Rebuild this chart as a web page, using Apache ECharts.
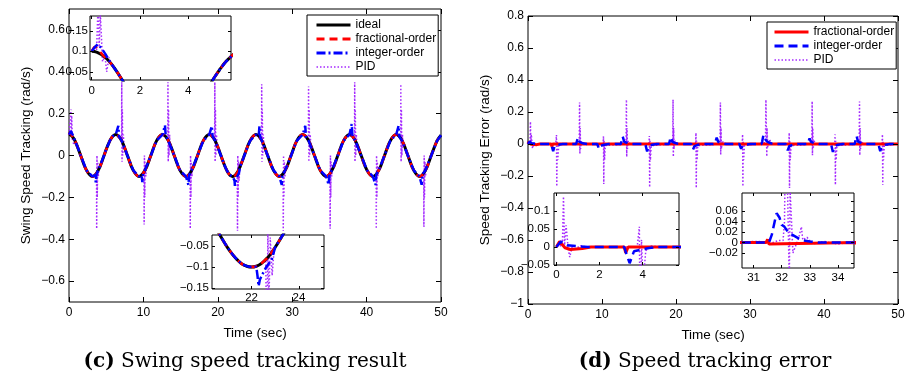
<!DOCTYPE html>
<html>
<head>
<meta charset="utf-8">
<script src="https://cdn.jsdelivr.net/npm/echarts@6/dist/echarts.min.js"></script>
<style>
  html, body { margin: 0; padding: 0; background: #fff; }
  #chart { width: 914px; height: 380px; }
</style>
</head>
<body>
<div id="chart"></div>
<script>
// ---- data (time in s, speed in rad/s) ----

// panel (c): reference swing speed
const idealC = [[0,0.1],[0.2,0.098],[0.4,0.092],[0.6,0.083],[0.79,0.071],[1.0,0.054],[1.2,0.036],[1.4,0.017],[1.57,0],
  [2.36,-0.071],[3.14,-0.1],[3.93,-0.071],[4.71,0],[4.9,0.019],[5.1,0.038],[5.3,0.055],[5.5,0.071],[5.7,0.083],[5.9,0.093],
  [6.28,0.1],[7.07,0.071],[7.85,0],[8.64,-0.071],[9.42,-0.1],[10.21,-0.071],[11.0,0],[11.78,0.071],[12.57,0.1],[13.35,0.071],
  [14.14,0],[14.92,-0.071],[15.71,-0.1],[16.49,-0.071],[17.28,0],[18.06,0.071],[18.85,0.1],[19.63,0.071],[20.42,0],
  [20.6,-0.018],[20.8,-0.037],[21.0,-0.055],[21.21,-0.071],[21.4,-0.083],[21.6,-0.093],[21.8,-0.098],[21.99,-0.1],
  [22.2,-0.098],[22.4,-0.092],[22.6,-0.082],[22.78,-0.071],[23.0,-0.053],[23.2,-0.035],[23.4,-0.016],[23.56,0],
  [24.35,0.071],[25.13,0.1],[25.92,0.071],[26.7,0],[27.49,-0.071],[28.27,-0.1],[29.06,-0.071],[29.85,0],[30.63,0.071],
  [31.42,0.1],[32.2,0.071],[32.99,0],[33.77,-0.071],[34.56,-0.1],[35.34,-0.071],[36.13,0],[36.91,0.071],[37.7,0.1],
  [38.48,0.071],[39.27,0],[40.06,-0.071],[40.84,-0.1],[41.63,-0.071],[42.41,0],[43.2,0.071],[43.98,0.1],[44.77,0.071],
  [45.55,0],[46.34,-0.071],[47.12,-0.1],[47.91,-0.071],[48.69,0],[49.48,0.071],[50,0.097]];

// where each controller leaves the reference curve in panel (c)
const fracEventsC = [
  [[0.05,0.105],[0.14,0.111],[0.3,0.102],[0.5,0.088]]
];
const intEventsC = [
  [[0.1,0.108],[0.25,0.117],[0.4,0.108],[0.55,0.095],[0.7,0.08]],
  [[3.5,-0.094],[3.6,-0.128],[3.7,-0.088]],
  [[6.53,0.097],[6.63,0.142],[6.73,0.09]],
  [[9.76,-0.094],[9.86,-0.127],[9.96,-0.087]],
  [[12.8,0.099],[12.9,0.144],[13.0,0.093]],
  [[15.95,-0.097],[16.05,-0.14],[16.15,-0.092]],
  [[19.1,0.097],[19.2,0.14],[19.3,0.092]],
  [[22.2,-0.099],[22.25,-0.12],[22.3,-0.145],[22.35,-0.13],[22.45,-0.118],[22.63,-0.099],[22.85,-0.083]],
  [[25.5,0.093],[25.6,0.14],[25.7,0.087]],
  [[28.5,-0.097],[28.6,-0.14],[28.7,-0.09]],
  [[31.65,0.097],[31.75,0.142],[31.85,0.09]],
  [[34.8,-0.097],[34.9,-0.14],[35.0,-0.09]],
  [[37.9,0.098],[38.0,0.15],[38.1,0.09]],
  [[41.1,-0.097],[41.2,-0.14],[41.3,-0.09]],
  [[44.2,0.098],[44.3,0.142],[44.4,0.09]],
  [[47.3,-0.098],[47.4,-0.14],[47.5,-0.09]]
];
const pidEventsC = [
  [[0.2,0.098],[0.27,0.22],[0.31,0.11],[0.36,0.19],[0.45,0.075],[0.55,0.09],[0.62,0.05],[0.72,0.085],[0.85,0.065]],
  [[3.70,-0.084],[3.72,-0.35],[3.76,0.0],[3.8,-0.2],[3.86,-0.03],[3.94,-0.1],[4.02,-0.06]],
  [[7.07,0.07],[7.09,0.35],[7.13,-0.03],[7.17,0.22],[7.23,0.0],[7.31,0.1],[7.39,0.05]],
  [[10.08,-0.078],[10.1,-0.33],[10.14,0.0],[10.18,-0.2],[10.24,-0.03],[10.32,-0.1],[10.4,-0.06]],
  [[13.28,0.075],[13.3,0.35],[13.34,-0.03],[13.38,0.22],[13.44,0.0],[13.52,0.1],[13.6,0.05]],
  [[16.28,-0.083],[16.3,-0.35],[16.34,0.0],[16.38,-0.2],[16.44,-0.03],[16.52,-0.1],[16.6,-0.06]],
  [[19.58,0.073],[19.6,0.35],[19.64,-0.03],[19.68,0.22],[19.74,0.0],[19.82,0.1],[19.9,0.05]],
  [[22.63,-0.082],[22.65,-0.36],[22.69,0.0],[22.73,-0.2],[22.79,-0.03],[22.87,-0.12],[22.95,-0.06]],
  [[25.88,0.072],[25.9,0.34],[25.94,-0.03],[25.98,0.22],[26.04,0.0],[26.12,0.1],[26.2,0.05]],
  [[28.78,-0.086],[28.8,-0.36],[28.84,0.0],[28.88,-0.2],[28.94,-0.03],[29.02,-0.1],[29.1,-0.06]],
  [[32.18,0.071],[32.2,0.33],[32.24,-0.03],[32.28,0.22],[32.34,0.0],[32.42,0.1],[32.5,0.05]],
  [[35.08,-0.086],[35.1,-0.35],[35.14,0.0],[35.18,-0.2],[35.24,-0.03],[35.32,-0.1],[35.4,-0.06]],
  [[38.38,0.076],[38.4,0.35],[38.44,-0.03],[38.48,0.22],[38.54,0.0],[38.62,0.1],[38.7,0.05]],
  [[41.28,-0.09],[41.3,-0.35],[41.34,0.0],[41.38,-0.2],[41.44,-0.03],[41.52,-0.1],[41.6,-0.06]],
  [[44.58,0.081],[44.6,0.34],[44.64,-0.03],[44.68,0.22],[44.74,0.0],[44.82,0.1],[44.9,0.05]],
  [[47.68,-0.084],[47.7,-0.34],[47.74,0.0],[47.78,-0.2],[47.84,-0.03],[47.92,-0.1],[48.0,-0.06]]
];

// panel (d): tracking error
const zeroD = [[0,0],[50,0]];
const fracEventsD = [
  [[0,0],[0.15,0.015],[0.4,-0.002],[0.65,-0.007],[1.2,-0.004],[1.6,0]],
  [[3.15,0],[3.22,-0.016],[3.33,0]],
  [[6.35,0],[6.45,0.01],[6.55,0]], [[9.5,0],[9.6,-0.01],[9.7,0]],
  [[12.65,0],[12.75,0.01],[12.85,0]], [[15.8,0],[15.9,-0.01],[16.0,0]],
  [[18.95,0],[19.05,0.01],[19.15,0]], [[22.1,0],[22.2,-0.01],[22.3,0]],
  [[25.2,0],[25.3,0.01],[25.4,0]], [[28.35,0],[28.45,-0.01],[28.55,0]],
  [[31.45,0],[31.5,0.006],[31.55,-0.003],[31.6,0]], [[34.65,0],[34.75,-0.01],[34.85,0]],
  [[37.8,0],[37.9,0.01],[38.0,0]], [[40.95,0],[41.05,-0.01],[41.15,0]],
  [[44.1,0],[44.2,0.01],[44.3,0]], [[47.25,0],[47.35,-0.01],[47.45,0]]
];
const intEventsD = [
  [[0,0],[0.2,0.015],[0.5,0.005],[1.0,0.002],[1.5,0]],
  [[3.15,0],[3.25,-0.02],[3.4,-0.045],[3.6,-0.012],[3.9,-0.008],[4.3,-0.003],[4.7,0]],
  [[6.5,0],[6.75,0.04],[6.95,0.013],[7.4,0.004],[8.0,0]],
  [[9.35,0],[9.6,-0.03],[9.8,-0.012],[10.3,-0.004],[10.9,0]],
  [[12.55,0],[12.8,0.047],[13.0,0.014],[13.5,0.004],[14.1,0]],
  [[15.85,0],[16.1,-0.046],[16.3,-0.014],[16.8,-0.004],[17.4,0]],
  [[19.05,0],[19.3,0.044],[19.5,0.014],[20.0,0.004],[20.6,0]],
  [[22.05,0],[22.3,-0.035],[22.5,-0.013],[23.0,-0.004],[23.6,0]],
  [[25.25,0],[25.5,0.04],[25.7,0.014],[26.2,0.004],[26.8,0]],
  [[28.55,0],[28.8,-0.03],[29.0,-0.012],[29.5,-0.004],[30.1,0]],
  [[31.55,0],[31.65,0.015],[31.75,0.04],[31.82,0.056],[31.92,0.048],[32.0,0.034],[32.1,0.03],[32.25,0.018],[32.4,0.014],[32.6,0.008],[32.75,0.004],[33.0,0.002],[33.3,0]],
  [[34.85,0],[35.1,-0.04],[35.3,-0.014],[35.8,-0.004],[36.4,0]],
  [[37.8,0],[38.05,0.035],[38.25,0.013],[38.75,0.004],[39.3,0]],
  [[40.95,0],[41.2,-0.05],[41.4,-0.015],[41.9,-0.004],[42.5,0]],
  [[44.15,0],[44.4,0.05],[44.6,0.015],[45.1,0.004],[45.7,0]],
  [[47.35,0],[47.6,-0.045],[47.8,-0.014],[48.3,-0.004],[48.9,0]]
];
const pidEventsD = [
  [[0,0],[0.28,0.005],[0.33,0.14],[0.38,0.005],[0.45,0.06],[0.55,-0.005],[0.62,-0.028],[0.75,0.005],[0.9,-0.006],[1.1,0.004],[1.4,0]],
  [[3.75,0],[3.85,0.056],[3.89,-0.265],[3.95,0.02],[4.02,-0.1],[4.15,-0.01],[4.4,0.003],[4.8,0]],
  [[6.92,0],[6.97,0.26],[7.01,-0.06],[7.05,0.1],[7.11,-0.03],[7.22,0.02],[7.47,0]],
  [[10.15,0],[10.2,0.048],[10.24,-0.25],[10.28,0.02],[10.34,-0.1],[10.45,-0.01],[10.7,0]],
  [[13.25,0],[13.3,0.277],[13.34,-0.08],[13.38,0.1],[13.44,-0.03],[13.55,0.02],[13.8,0]],
  [[16.35,0],[16.4,0.05],[16.44,-0.27],[16.48,0.02],[16.54,-0.1],[16.65,-0.01],[16.9,0]],
  [[19.55,0],[19.6,0.277],[19.64,-0.08],[19.68,0.1],[19.74,-0.03],[19.85,0.02],[20.1,0]],
  [[22.65,0],[22.7,0.07],[22.74,-0.275],[22.78,0.02],[22.84,-0.1],[22.95,-0.01],[23.2,0]],
  [[25.95,0],[26.0,0.26],[26.04,-0.067],[26.08,0.1],[26.14,-0.03],[26.25,0.02],[26.5,0]],
  [[28.95,0],[29.0,0.06],[29.04,-0.265],[29.08,0.02],[29.14,-0.1],[29.25,-0.01],[29.5,0]],
  [[31.2,0.002],[31.6,-0.002],[31.9,0.004],[32.05,0.004],[32.1,0.04],[32.15,0.277],[32.27,-0.078],[32.3,0.1],[32.4,-0.02],[32.6,0.008],[32.7,0.03],[32.75,0.005],[32.9,0.01],[33.1,-0.003],[33.5,0.002],[34.0,-0.003],[34.4,0]],
  [[35.25,0],[35.3,0.07],[35.34,-0.275],[35.38,0.02],[35.44,-0.1],[35.55,-0.01],[35.8,0]],
  [[38.35,0],[38.4,0.267],[38.44,-0.07],[38.48,0.1],[38.54,-0.03],[38.65,0.02],[38.9,0]],
  [[41.45,0],[41.5,0.06],[41.54,-0.255],[41.58,0.02],[41.64,-0.1],[41.75,-0.01],[42.0,0]],
  [[44.75,0],[44.8,0.265],[44.84,-0.07],[44.88,0.1],[44.94,-0.03],[45.05,0.02],[45.3,0]],
  [[47.85,0],[47.9,0.06],[47.94,-0.255],[47.98,0.02],[48.04,-0.1],[48.15,-0.01],[48.4,0]]
];

// tick values
const ticksTime = [0, 10, 20, 30, 40, 50];
const ticksSwing = [-0.6, -0.4, -0.2, 0, 0.2, 0.4, 0.6];
const ticksErr = [-1, -0.8, -0.6, -0.4, -0.2, 0, 0.2, 0.4, 0.6, 0.8];
const ticksZoomC1 = { x: [0, 2, 4], y: [0.05, 0.1, 0.15] };
const ticksZoomC2 = { x: [22, 24], y: [-0.15, -0.1, -0.05] };
const ticksZoomD1 = { x: [0, 2, 4], y: [-0.05, 0, 0.05, 0.1] };
const ticksZoomD2 = { x: [31, 32, 33, 34], y: [-0.04, -0.02, 0, 0.02, 0.04, 0.06, 0.08] };

// ---- build ----
const FONT = 'Liberation Sans, Arial, sans-serif';
const SERIF = 'DejaVu Serif, serif';
const minus = v => String(v).replace('-', '\u2212');

// lay the read-off deviations over the base curve
function withEvents(base, events) {
  let pts = base.slice();
  events.forEach(g => {
    const a = g[0][0] - 0.02, b = g[g.length - 1][0] + 0.02;
    pts = pts.filter(p => p[0] < a || p[0] > b);
  });
  return pts.concat(...events).sort((p, q) => p[0] - q[0]);
}

const dataC = {
  ideal: idealC,
  frac: withEvents(idealC, fracEventsC),
  int: withEvents(idealC, intEventsC),
  pid: withEvents(idealC, pidEventsC)
};
const dataD = {
  frac: withEvents(zeroD, fracEventsD),
  int: withEvents(zeroD, intEventsD),
  pid: withEvents(zeroD, pidEventsD)
};

const grids = [
  { left: 69, top: 9, width: 372, height: 293, z: 0 },       // (c)
  { left: 528, top: 16, width: 370, height: 288, z: 0 },     // (d)
  { left: 90, top: 16, width: 141, height: 64, z: 10 },      // (c) zoom start
  { left: 212, top: 235, width: 112, height: 54, z: 10 },    // (c) zoom trough
  { left: 554, top: 193, width: 125, height: 72, z: 10 },    // (d) zoom start
  { left: 742, top: 193, width: 112, height: 75, z: 10 }     // (d) zoom 31-34
].map(g => Object.assign({ show: true, backgroundColor: '#fff', borderColor: '#000', borderWidth: 1 }, g));

const axisSpecs = [
  { x: { min: 0, max: 50, ticks: ticksTime, fs: 12, margin: 5, len: 5, name: 'Time (sec)', nameGap: 24 },
    y: { min: -0.7, max: 0.7, ticks: ticksSwing, fs: 12, margin: 4, len: 5, name: 'Swing Speed Tracking (rad/s)', nameGap: 36 } },
  { x: { min: 0, max: 50, ticks: ticksTime, fs: 12, margin: 5, len: 5, name: 'Time (sec)', nameGap: 24 },
    y: { min: -1, max: 0.8, ticks: ticksErr, fs: 12, margin: 4, len: 5, name: 'Speed Tracking Error (rad/s)', nameGap: 36 } },
  { x: { min: -0.07, max: 5.77, ticks: ticksZoomC1.x, fs: 11.5, margin: 5, len: 3 },
    y: { min: 0.03, max: 0.186, ticks: ticksZoomC1.y, fs: 11.5, margin: 2, len: 3 } },
  { x: { min: 20.33, max: 25.06, ticks: ticksZoomC2.x, fs: 11.5, margin: 3, len: 3 },
    y: { min: -0.152, max: -0.024, ticks: ticksZoomC2.y, fs: 11.5, margin: 3, len: 3 } },
  { x: { min: -0.11, max: 5.69, ticks: ticksZoomD1.x, fs: 11.5, margin: 4, len: 3 },
    y: { min: -0.05, max: 0.15, ticks: ticksZoomD1.y, fs: 11.5, margin: 4, len: 3 } },
  { x: { min: 30.59, max: 34.57, ticks: ticksZoomD2.x, fs: 11.5, margin: 4, len: 3 },
    y: { min: -0.049, max: 0.095, ticks: ticksZoomD2.y, fs: 11.5, margin: 4, len: 3 } }
];

const xAxes = [], yAxes = [];
axisSpecs.forEach((s, gi) => {
  const z = grids[gi].z + 3;
  const mk = (a, pos, show) => ({
    type: 'value', gridIndex: gi, position: pos, min: a.min, max: a.max, z: z,
    axisLine: { show: false, onZero: false },
    axisTick: { show: true, inside: true, length: a.len, customValues: a.ticks, lineStyle: { color: '#000', width: 1 } },
    axisLabel: { show: show, customValues: a.ticks, margin: a.margin, fontSize: a.fs, fontFamily: FONT, color: '#000', formatter: minus },
    splitLine: { show: false },
    name: show && a.name ? a.name : '', nameLocation: 'middle', nameGap: a.nameGap || 0,
    nameTextStyle: { fontSize: 13.5, fontFamily: FONT, color: '#000' }
  });
  xAxes.push(mk(s.x, 'bottom', true), mk(s.x, 'top', false));
  yAxes.push(mk(s.y, 'left', true), mk(s.y, 'right', false));
});

const styleC = {
  pid:   { name: 'PID', color: '#a52aff', width: 1.5, type: [1.5, 2], smooth: false },
  ideal: { name: 'ideal', color: '#000', width: 3, type: 'solid', smooth: 0.4 },
  frac:  { name: 'fractional-order', color: '#ff0000', width: 2.5, type: [8, 5], smooth: 0.4 },
  int:   { name: 'integer-order', color: '#0000ff', width: 2.5, type: [9, 3, 2, 3], smooth: false }
};
const styleD = {
  pid:  { name: 'PID (d)', color: '#a52aff', width: 1.5, type: [1.5, 2], smooth: false },
  frac: { name: 'fractional-order (d)', color: '#ff0000', width: 3, type: 'solid', smooth: false },
  int:  { name: 'integer-order (d)', color: '#0000ff', width: 2.5, type: [9, 5], smooth: false }
};

const series = [];
function addSeries(gi, st, data, z) {
  series.push({
    type: 'line', name: st.name, xAxisIndex: gi * 2, yAxisIndex: gi * 2,
    data: data, showSymbol: false, symbol: 'none', smooth: st.smooth, clip: true,
    z: z, silent: true, animation: false,
    itemStyle: { color: st.color },
    lineStyle: { color: st.color, width: st.width, type: st.type }
  });
}
[0, 2, 3].forEach(gi => {
  const z = gi === 0 ? 2 : 12;
  ['pid', 'ideal', 'frac', 'int'].forEach(k => addSeries(gi, styleC[k], dataC[k], z));
});
[1, 4, 5].forEach(gi => {
  const z = gi === 1 ? 2 : 12;
  ['pid', 'frac', 'int'].forEach(k => addSeries(gi, styleD[k], dataD[k], z));
});

const legendBase = {
  orient: 'vertical', backgroundColor: '#fff', borderColor: '#000', borderWidth: 1, borderRadius: 0,
  itemGap: 0, itemHeight: 14, selectedMode: false, z: 20,
  itemStyle: { color: 'rgba(0,0,0,0)', borderColor: 'rgba(0,0,0,0)', borderWidth: 0, opacity: 0 },
  textStyle: { fontSize: 12, fontFamily: FONT, color: '#000', lineHeight: 14 }
};
const legendItem = st => ({ name: st.name, lineStyle: { width: st.width > 2 ? 3 : 1.5 } });

const chart = echarts.init(document.getElementById('chart'), null, { renderer: 'canvas' });
chart.setOption({
  animation: false,
  backgroundColor: '#fff',
  grid: grids,
  xAxis: xAxes,
  yAxis: yAxes,
  legend: [
    Object.assign({}, legendBase, {
      left: 307, top: 15, itemWidth: 34, padding: [3, 2, 2, 8],
      data: ['ideal', 'frac', 'int', 'pid'].map(k => legendItem(styleC[k]))
    }),
    Object.assign({}, legendBase, {
      left: 767, top: 22, itemWidth: 34, padding: [3, 2, 2, 6],
      data: ['frac', 'int', 'pid'].map(k => legendItem(styleD[k])),
      formatter: n => n.replace(' (d)', '')
    })
  ],
  series: series,
  graphic: [
    { type: 'text', x: 245, y: 362, z: 100, style: {
      text: '{b|(c)} Swing speed tracking result', align: 'center', verticalAlign: 'middle',
      fontFamily: SERIF, fontSize: 20, fill: '#000',
      rich: { b: { fontWeight: 'bold', fontFamily: SERIF, fontSize: 20 } } } },
    { type: 'text', x: 705, y: 362, z: 100, style: {
      text: '{b|(d)} Speed tracking error', align: 'center', verticalAlign: 'middle',
      fontFamily: SERIF, fontSize: 20, fill: '#000',
      rich: { b: { fontWeight: 'bold', fontFamily: SERIF, fontSize: 20 } } } }
  ]
});
</script>
</body>
</html>
